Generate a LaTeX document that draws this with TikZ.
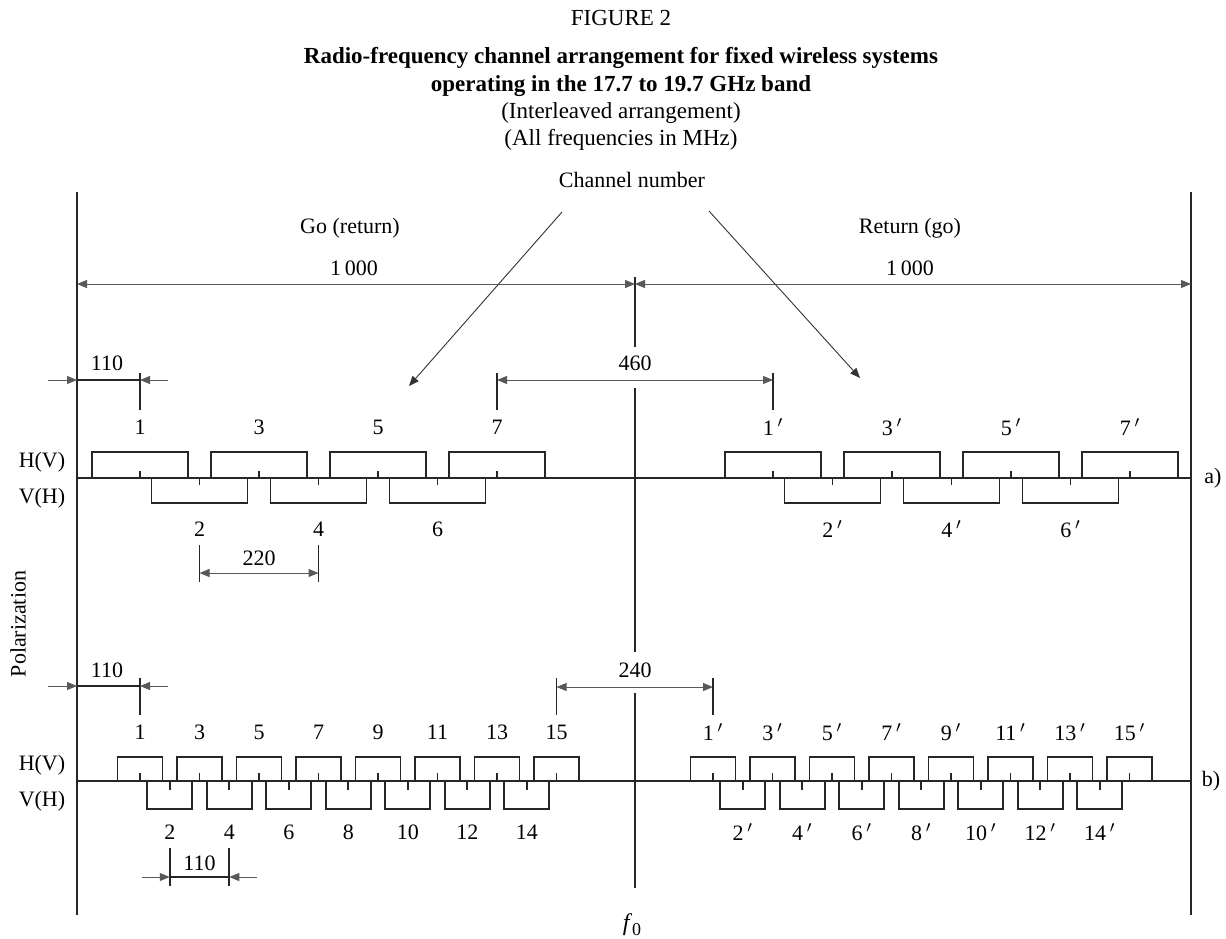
\documentclass[tikz,border=0pt]{standalone}
\usepackage{fontspec}
\setmainfont{Liberation Serif}
\usetikzlibrary{arrows.meta}
\begin{document}
\begin{tikzpicture}[x=0.5pt,y=-0.5pt,
  mainline/.style={line width=1.1pt,draw=black!85},
  boxline/.style={line width=0.85pt,draw=black!85},
  dimline/.style={line width=0.5pt,draw=black!65},
  pointer/.style={line width=0.45pt,draw=black!80},
  tipA/.style={-{Triangle[length=5pt,width=4pt]}},
  tipB/.style={{Triangle[length=5pt,width=4pt]}-{Triangle[length=5pt,width=4pt]}},
  lbl/.style={font=\fontsize{11}{13}\selectfont,inner sep=0pt},
  ttl/.style={font=\fontsize{11.5}{13}\selectfont,inner sep=0pt}]
\useasboundingbox (0,0) rectangle (1226,938);
% titles
\node[ttl] (fig) at (621,18) {FIGURE 2};
\node[ttl,font=\bfseries\fontsize{11.5}{13}\selectfont] (t1) at (621,58) {Radio-frequency channel arrangement for fixed wireless systems};
\node[ttl,font=\bfseries\fontsize{11.5}{13}\selectfont] (t2) at (621,86) {operating in the 17.7 to 19.7 GHz band};
\node[ttl] (t3) at (621,113) {(Interleaved arrangement)};
\node[ttl] (t4) at (621,140) {(All frequencies in MHz)};
\node[lbl] (chn) at (632,180) {Channel number};
\node[lbl] (go) at (350,228) {Go (return)};
\node[lbl] (ret) at (910,228) {Return (go)};
\node[lbl] (k1) at (354,268) {1\,000};
\node[lbl] (k2) at (910,268) {1\,000};
% main verticals
\coordinate (L1) at (77,192); \coordinate (L2) at (77,915);
\coordinate (R1) at (1191,192); \coordinate (R2) at (1191,915);
\coordinate (C1) at (635,277); \coordinate (C2) at (635,347);
\coordinate (C3) at (635,388); \coordinate (C4) at (635,652);
\coordinate (C5) at (635,693); \coordinate (C6) at (635,888);
\draw[mainline] (L1) -- (L2);
\draw[mainline] (R1) -- (R2);
\draw[mainline] (C1) -- (C2) (C3) -- (C4) (C5) -- (C6);
% 1000 dimensions
\coordinate (dA) at (77,284); \coordinate (dB) at (635,284); \coordinate (dC) at (1191,284);
\draw[dimline,tipB] (dA) -- (dB);
\draw[dimline,tipB] (dB) -- (dC);
% channel number pointers
\coordinate (p1) at (562,212); \coordinate (p2) at (409,386);
\coordinate (p3) at (709,211); \coordinate (p4) at (860,378);
\draw[pointer,tipA] (p1) -- (p2);
\draw[pointer,tipA] (p3) -- (p4);
% baselines
\coordinate (ba1) at (77,478); \coordinate (ba2) at (1191,478);
\coordinate (bb1) at (77,781); \coordinate (bb2) at (1191,781);
\draw[mainline,line width=0.85pt] (ba1) -- (ba2);
\draw[mainline,line width=0.85pt] (bb1) -- (bb2);
\node[lbl] (ea) at (1213,478) {a)};
\node[lbl] (eb) at (1211,781) {b)};
\node[lbl] (hva) at (42,462) {H(V)};
\node[lbl] (vha) at (42,498) {V(H)};
\node[lbl] (hvb) at (42,765) {H(V)};
\node[lbl] (vhb) at (42,801) {V(H)};
\node[lbl,rotate=90] (pol) at (18,624) {Polarization};
% row a) boxes
\foreach \s/\p in {140/,773/{\,$'$}} {
  \foreach \n in {1,3,5,7} {
    \pgfmathsetmacro{\c}{\s+(\n-1)*59.5}
    \draw[boxline] (\c-48,478) -- (\c-48,452) -- (\c+48,452) -- (\c+48,478);
    \draw[boxline] (\c,478) -- (\c,471);
    \node[lbl] (la\s\n) at (\c,427) {\n\p};
  }
  \foreach \n in {2,4,6} {
    \pgfmathsetmacro{\c}{\s+(\n-1)*59.5}
    \draw[boxline] (\c-48,478) -- (\c-48,503) -- (\c+48,503) -- (\c+48,478);
    \draw[boxline] (\c,478) -- (\c,485);
    \node[lbl] (la\s\n) at (\c,529) {\n\p};
  }
}
% row b) boxes
\foreach \s/\p in {140/,713/{\,$'$}} {
  \foreach \n in {1,3,...,15} {
    \pgfmathsetmacro{\c}{\s+(\n-1)*29.75}
    \draw[boxline] (\c-22.5,781) -- (\c-22.5,757) -- (\c+22.5,757) -- (\c+22.5,781);
    \draw[boxline] (\c,781) -- (\c,773);
    \node[lbl] (lb\s\n) at (\c,732) {\n\p};
  }
  \foreach \n in {2,4,...,14} {
    \pgfmathsetmacro{\c}{\s+(\n-1)*29.75}
    \draw[boxline] (\c-22.5,781) -- (\c-22.5,809) -- (\c+22.5,809) -- (\c+22.5,781);
    \draw[boxline] (\c,781) -- (\c,790);
    \node[lbl] (lb\s\n) at (\c,832) {\n\p};
  }
}
% 110 (a)
\coordinate (e1) at (48,380); \coordinate (e2) at (77,380);
\coordinate (e3) at (140,380); \coordinate (e4) at (168,380);
\coordinate (e5) at (140,373); \coordinate (e6) at (140,410);
\draw[dimline,tipA] (e1) -- (e2);
\draw[dimline,tipA] (e4) -- (e3);
\draw[mainline,line width=0.7pt] (e2) -- (e3);
\draw[mainline,line width=0.8pt] (e5) -- (e6);
\node[lbl] (n110a) at (107,363) {110};
% 460
\coordinate (f1) at (497,380); \coordinate (f2) at (773,380);
\coordinate (f3) at (497,373); \coordinate (f4) at (497,410);
\coordinate (f5) at (773,373); \coordinate (f6) at (773,410);
\draw[dimline,tipB] (f1) -- (f2);
\draw[mainline,line width=0.8pt] (f3) -- (f4) (f5) -- (f6);
\node[lbl] (n460) at (635,363) {460};
% 220
\coordinate (g1) at (199.5,573); \coordinate (g2) at (318.5,573);
\coordinate (g3) at (199.5,545); \coordinate (g4) at (199.5,582);
\coordinate (g5) at (318.5,545); \coordinate (g6) at (318.5,582);
\draw[dimline,tipB] (g1) -- (g2);
\draw[mainline,line width=0.8pt] (g3) -- (g4) (g5) -- (g6);
\node[lbl] (n220) at (259,558) {220};
% 110 (b)
\coordinate (h1) at (48,686); \coordinate (h2) at (77,686);
\coordinate (h3) at (140,686); \coordinate (h4) at (168,686);
\coordinate (h5) at (140,678); \coordinate (h6) at (140,715);
\draw[dimline,tipA] (h1) -- (h2);
\draw[dimline,tipA] (h4) -- (h3);
\draw[mainline,line width=0.7pt] (h2) -- (h3);
\draw[mainline,line width=0.8pt] (h5) -- (h6);
\node[lbl] (n110b) at (107,670) {110};
% 240
\coordinate (i1) at (556.5,687); \coordinate (i2) at (713,687);
\coordinate (i3) at (556.5,678); \coordinate (i4) at (556.5,715);
\coordinate (i5) at (713,678); \coordinate (i6) at (713,715);
\draw[dimline,tipB] (i1) -- (i2);
\draw[mainline,line width=0.8pt] (i3) -- (i4) (i5) -- (i6);
\node[lbl] (n240) at (635,670) {240};
% 110 bottom
\coordinate (j1) at (142,877); \coordinate (j2) at (169.75,877);
\coordinate (j3) at (229.25,877); \coordinate (j4) at (257,877);
\coordinate (j5) at (169.75,848); \coordinate (j6) at (169.75,886);
\coordinate (j7) at (229.25,848); \coordinate (j8) at (229.25,886);
\draw[dimline,tipA] (j1) -- (j2);
\draw[dimline,tipA] (j4) -- (j3);
\draw[mainline,line width=0.7pt] (j2) -- (j3);
\draw[mainline,line width=0.8pt] (j5) -- (j6) (j7) -- (j8);
\node[lbl] (n110c) at (199.5,863) {110};
% f0
\node[font=\fontsize{12}{14}\selectfont,inner sep=0pt] (f0) at (632,925) {\textit{f}\raisebox{-0.45ex}{\fontsize{9}{10}\selectfont 0}};
\end{tikzpicture}
\end{document}
